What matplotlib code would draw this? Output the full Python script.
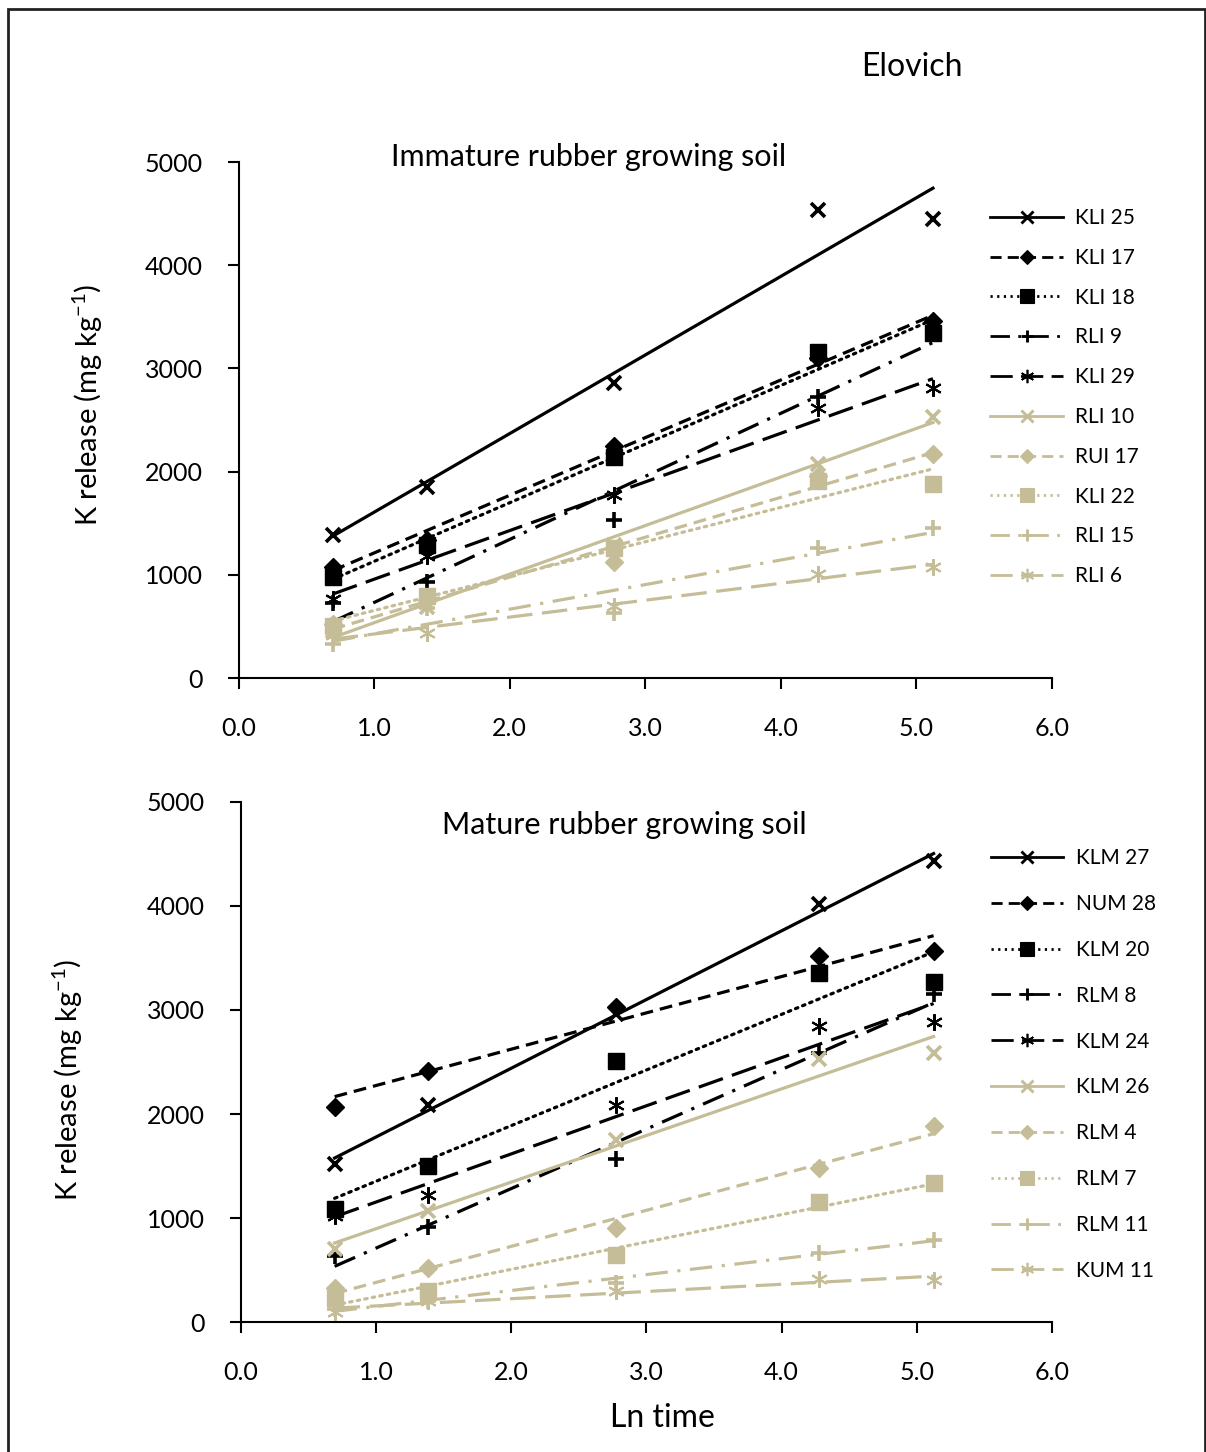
import matplotlib.pyplot as plt
import numpy as np
from matplotlib.patches import Rectangle

plt.rcParams['font.family'] = ['Lato', 'DejaVu Sans']
plt.rcParams['mathtext.default'] = 'regular'

# ln(time) for 2, 4, 16, 72, 168 h
ln_t = [0.693, 1.386, 2.773, 4.277, 5.124]

# Immature rubber growing soil
imm_names = ['KLI 25', 'KLI 17', 'KLI 18', 'RLI 9', 'KLI 29',
             'RLI 10', 'RUI 17', 'KLI 22', 'RLI 15', 'RLI 6']
kli25 = [1383, 1855, 2860, 4535, 4450]
kli17 = [1080, 1340, 2250, 3100, 3460]
kli18 = [975, 1290, 2140, 3160, 3345]
rli9 = [730, 930, 1535, 2720, 3400]
kli29 = [770, 1180, 1770, 2620, 2810]
rli10 = [460, 690, 1290, 2070, 2525]
rui17 = [520, 760, 1125, 1960, 2170]
kli22 = [500, 800, 1260, 1910, 1885]
rli15 = [330, 680, 630, 1260, 1450]
rli6 = [420, 440, 700, 1010, 1080]
imm_vals = [kli25, kli17, kli18, rli9, kli29, rli10, rui17, kli22, rli15, rli6]

# Mature rubber growing soil
mat_names = ['KLM 27', 'NUM 28', 'KLM 20', 'RLM 8', 'KLM 24',
             'KLM 26', 'RLM 4', 'RLM 7', 'RLM 11', 'KUM 11']
klm27 = [1517, 2083, 2960, 4017, 4433]
num28 = [2067, 2417, 3033, 3517, 3567]
klm20 = [1083, 1500, 2507, 3360, 3267]
rlm8 = [633, 917, 1567, 2583, 3150]
klm24 = [1017, 1217, 2083, 2850, 2883]
klm26 = [700, 1067, 1750, 2533, 2583]
rlm4 = [330, 517, 900, 1483, 1883]
rlm7 = [230, 300, 640, 1150, 1333]
rlm11 = [130, 200, 380, 667, 790]
kum11 = [100, 200, 300, 417, 400]
mat_vals = [klm27, num28, klm20, rlm8, klm24, klm26, rlm4, rlm7, rlm11, kum11]

black = '#000000'
tan = '#c4bd97'
asterisk = (6, 2, 0)
styles = [
    dict(marker='x', ms=10, mew=2.6, ls='-'),
    dict(marker='D', ms=9, mew=1, ls=(0, (4, 2.2))),
    dict(marker='s', ms=12, mew=1, ls=(0, (0.8, 1.6))),
    dict(marker='+', ms=11, mew=2.6, ls=(0, (7, 3, 1, 3))),
    dict(marker=asterisk, ms=12, mew=1.5, ls=(0, (8, 3))),
]


def draw(ax, names, vals, title, tpos, leg_space):
    for i, (name, y) in enumerate(zip(names, vals)):
        st = styles[i % 5]
        col = black if i < 5 else tan
        x = np.array(ln_t)
        b, a = np.polyfit(x, y, 1)
        xf = np.array([x[0], x[-1]])
        ax.plot(x, y, linestyle='none', marker=st['marker'], ms=st['ms'],
                mew=st['mew'], color=col, zorder=3)
        ax.plot(xf, a + b * xf, linestyle=st['ls'], color=col, lw=2.3, zorder=2,
                dash_capstyle='round' if i % 5 == 2 else 'butt')
        # legend proxy
        ax.plot([], [], linestyle=st['ls'], lw=2, color=col, marker=st['marker'],
                ms=st['ms'] * 0.8, mew=st['mew'] * 0.8, label=name)
    ax.set_xlim(0, 6)
    ax.set_ylim(0, 5000)
    ax.set_xticks(np.arange(0, 6.1, 1.0))
    ax.set_xticklabels(['%.1f' % v for v in np.arange(0, 6.1, 1.0)])
    ax.set_yticks(range(0, 5001, 1000))
    for s in ['top', 'right']:
        ax.spines[s].set_visible(False)
    for s in ['left', 'bottom']:
        ax.spines[s].set_linewidth(1.5)
    ax.tick_params(direction='out', length=8, width=1.5, labelsize=18)
    ax.tick_params(axis='x', pad=20)
    ax.tick_params(axis='y', pad=18)
    ax.text(tpos[0], tpos[1], title, transform=ax.transAxes, fontsize=22,
            ha='center', va='center')
    h, l = ax.get_legend_handles_labels()
    ax.legend(h, l, loc='upper left', bbox_to_anchor=(0.914, 0.927), frameon=False,
              fontsize=15, handlelength=3.5, labelspacing=leg_space,
              borderaxespad=0, handletextpad=0.6)


fig = plt.figure(figsize=(12.06, 14.52), dpi=100)
ax1 = fig.add_axes([0.198, 0.533, 0.674, 0.3554])
ax2 = fig.add_axes([0.1998, 0.0895, 0.6725, 0.3582])

draw(ax1, imm_names, imm_vals, 'Immature rubber growing soil', (0.43, 1.01), 0.95)
draw(ax2, mat_names, mat_vals, 'Mature rubber growing soil', (0.473, 0.956), 1.24)

ylab = 'K release (mg kg$^{-1}$)'
fig.text(88 / 1206, 1 - 405 / 1452, ylab, fontsize=21, rotation=90,
         ha='center', va='center')
fig.text(68 / 1206, 1 - 1080 / 1452, ylab, fontsize=21, rotation=90,
         ha='center', va='center')
fig.text(662 / 1206, 1 - 1418 / 1452, 'Ln time', fontsize=23, ha='center', va='center')
fig.text(912 / 1206, 1 - 67 / 1452, 'Elovich', fontsize=23, ha='center', va='center')

fig.add_artist(Rectangle((8 / 1206, -0.05), (1205 - 8) / 1206, 1.05 - 9 / 1452,
                         transform=fig.transFigure, fill=False, lw=2,
                         edgecolor='#222222'))

fig.savefig('out.png', dpi=100)
